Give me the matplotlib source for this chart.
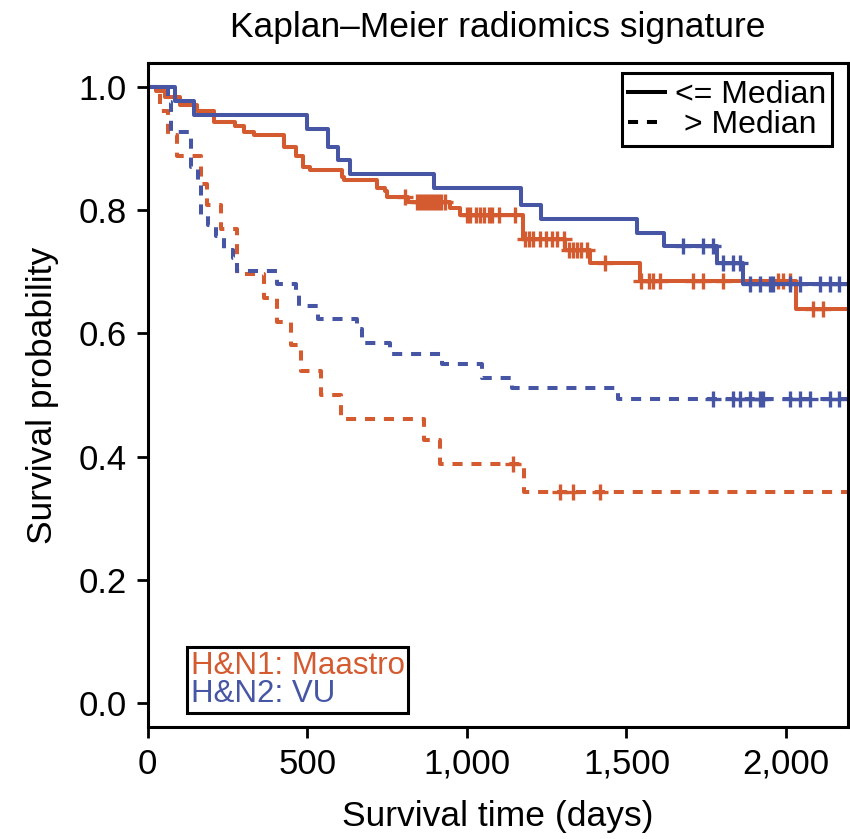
import numpy as np
import matplotlib
matplotlib.use("Agg")
import matplotlib.pyplot as plt
from matplotlib.lines import Line2D

plt.rcParams['font.family'] = ['Liberation Sans', 'DejaVu Sans']

rojo = '#D45B30'
azul = '#4656A4'
t_fin = 2195

# H&N1 Maastro, <= mediana
m1_t = [0, 25, 53, 100, 155, 207, 272, 302, 334, 428, 466, 487, 508, 609, 615, 719, 743, 750,
        814, 947, 979, 1175, 1308, 1387, 1541, 2032]
m1_s = [1.0, 0.993, 0.983, 0.971, 0.960, 0.943, 0.937, 0.926, 0.921, 0.903, 0.887, 0.870, 0.865,
        0.854, 0.848, 0.836, 0.831, 0.821, 0.813, 0.804, 0.792, 0.753, 0.736, 0.714, 0.685, 0.639]
m1_cens = [805, 843, 853, 862, 872, 881, 891, 900, 910, 920, 930, 1000, 1010, 1030, 1042, 1055,
           1068, 1078, 1100, 1151, 1183, 1195, 1208, 1230, 1249, 1268, 1282, 1303, 1320, 1333,
           1346, 1358, 1376, 1434, 1547, 1572, 1584, 1604, 1709, 1740, 1803, 1975, 1990, 2012,
           2085, 2115]

# H&N1 Maastro, > mediana
m2_t = [0, 40, 62, 93, 168, 187, 229, 281, 365, 406, 449, 480, 543, 606, 865, 917, 1178]
m2_s = [1.0, 0.960, 0.922, 0.887, 0.842, 0.808, 0.769, 0.696, 0.657, 0.618, 0.581, 0.539, 0.500,
        0.461, 0.427, 0.388, 0.343]
m2_cens = [1146, 1292, 1334, 1418]

# H&N2 VU, <= mediana
v1_t = [0, 85, 145, 500, 564, 595, 635, 897, 1169, 1232, 1533, 1616, 1783, 1866]
v1_s = [1.0, 0.977, 0.955, 0.932, 0.903, 0.881, 0.859, 0.836, 0.809, 0.786, 0.763, 0.742,
        0.714, 0.680]
v1_cens = [1678, 1741, 1771, 1802, 1834, 1855, 1886, 1918, 1950, 1958, 2012, 2043, 2106, 2137,
           2167]

# H&N2 VU, > mediana
v2_t = [0, 62, 73, 135, 156, 166, 189, 213, 239, 268, 281, 406, 466, 475, 532, 655, 670, 759,
        921, 1048, 1141, 1474]
v2_s = [1.0, 0.975, 0.926, 0.870, 0.841, 0.792, 0.775, 0.758, 0.736, 0.722, 0.701, 0.680,
        0.663, 0.645, 0.623, 0.607, 0.584, 0.567, 0.550, 0.528, 0.511, 0.494]
v2_cens = [1771, 1834, 1855, 1886, 1918, 1928, 2012, 2043, 2074, 2137, 2167]

guion = (0, (2.5, 2.2))
curvas = [
    (m1_t, m1_s, m1_cens, rojo, '-'),
    (v1_t, v1_s, v1_cens, azul, '-'),
    (m2_t, m2_s, m2_cens, rojo, guion),
    (v2_t, v2_s, v2_cens, azul, guion),
]

fig = plt.figure(figsize=(8.5, 8.39), dpi=100)
ax = fig.add_axes([0.1738, 0.1335, 0.8242, 0.791])

for t, s, cens, color, estilo in curvas:
    tt = list(t) + [t_fin]
    ss = list(s) + [s[-1]]
    ax.step(tt, ss, where='post', color=color, linestyle=estilo, linewidth=2.9)
    # marcas de censura sobre el nivel de la curva
    idx = np.searchsorted(t, cens, side='right') - 1
    ax.plot(cens, np.array(s)[idx], linestyle='none', marker='+', markersize=11,
            markeredgewidth=2.4, color=color)

ax.set_xlim(0, t_fin)
ax.set_ylim(-0.0385, 1.038)
ax.set_xticks([0, 500, 1000, 1500, 2000])
ax.set_xticklabels(['0', '500', '1,000', '1,500', '2,000'])
ax.set_yticks([0.0, 0.2, 0.4, 0.6, 0.8, 1.0])
ax.set_yticklabels(['0.0', '0.2', '0.4', '0.6', '0.8', '1.0'])
ax.tick_params(labelsize=25, length=8, width=2, pad=7)
for lado in ax.spines.values():
    lado.set_linewidth(2.2)

ax.set_title('Kaplan\u2013Meier radiomics signature', fontsize=25.5, pad=19)
ax.set_xlabel('Survival time (days)', fontsize=25.5, labelpad=14)
ax.set_ylabel('Survival probability', fontsize=25.5, labelpad=14)

# Leyenda de estilos de línea
h1 = [Line2D([], [], color='black', linewidth=2.9),
      Line2D([], [], color='black', linewidth=2.9, linestyle=guion)]
leg1 = ax.legend(h1, ['<= Median', ' > Median'], loc='upper right',
                 bbox_to_anchor=(0.977, 0.985), borderaxespad=0, fontsize=23,
                 frameon=True, fancybox=False, edgecolor='black', framealpha=1,
                 handlelength=1.15, handletextpad=0.3, labelspacing=0.0,
                 borderpad=0.2)
leg1.get_frame().set_linewidth(2.2)
ax.add_artist(leg1)

# Leyenda de cohortes
h2 = [Line2D([], [], linestyle='none'), Line2D([], [], linestyle='none')]
leg2 = ax.legend(h2, ['H&N1: Maastro', 'H&N2: VU'], loc='lower left',
                 bbox_to_anchor=(0.0557, 0.0211), borderaxespad=0, fontsize=22.5,
                 frameon=True, fancybox=False, edgecolor='black', framealpha=1,
                 handlelength=0, handletextpad=0, labelspacing=-0.05, borderpad=0.12,
                 labelcolor=[rojo, azul])
leg2.get_frame().set_linewidth(2.2)

fig.savefig('out.png', dpi=100)
